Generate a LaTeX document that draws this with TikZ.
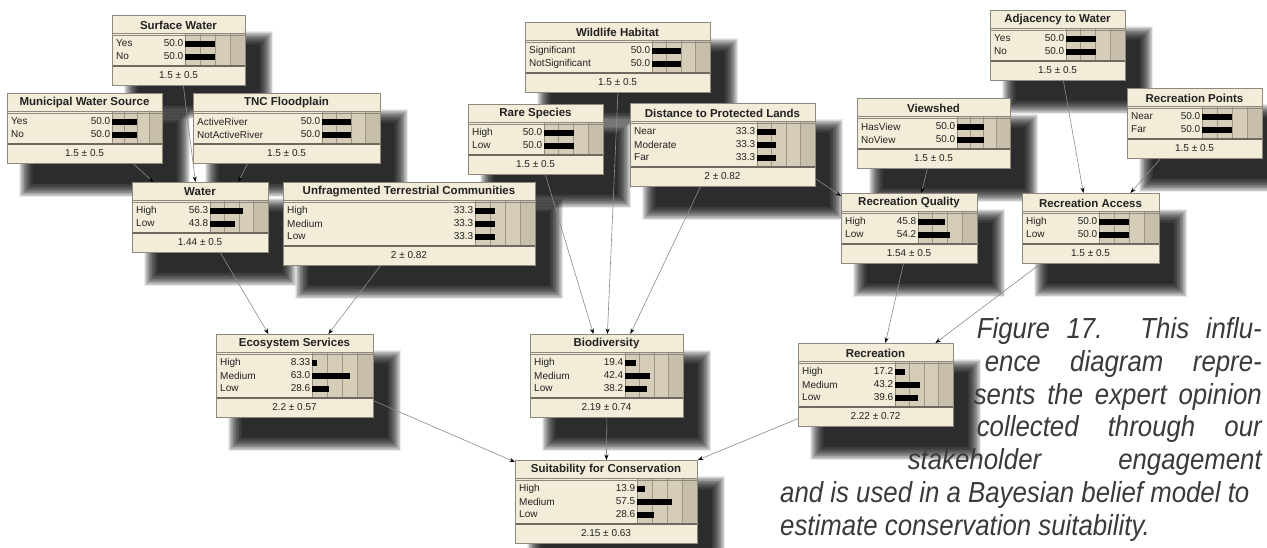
\documentclass[tikz,border=0pt]{standalone}
\usepackage{fontspec}
\setmainfont{Liberation Sans}
\newfontfamily\capfont[FakeStretch=0.89]{Liberation Sans}
\usetikzlibrary{arrows.meta,calc}
\definecolor{bbcream}{HTML}{F3ECD8}
\definecolor{bbtan}{HTML}{D6CDB9}
\definecolor{bbtandark}{HTML}{C8BFAB}
\definecolor{bbgrid}{HTML}{9F9686}
\definecolor{bbframe}{HTML}{8E897E}
\definecolor{bbsep}{HTML}{6F6A60}
\definecolor{edgec}{HTML}{8C8C8C}
\definecolor{capc}{HTML}{3A3A3A}
\definecolor{bbtext}{HTML}{222222}
\pgfdeclarelayer{bglayer}
\pgfdeclarelayer{shadowlayer}
\pgfdeclarelayer{edgelayer}
\pgfsetlayers{bglayer,shadowlayer,edgelayer,main}
\tikzset{
  boxframe/.style={draw=bbframe, fill=bbcream, line width=0.8pt, inner sep=0pt, anchor=north west},
  ttl/.style={font=\bfseries\fontsize{11.5}{13}\selectfont, text=bbtext, inner sep=0pt},
  lbl/.style={font=\fontsize{10}{12}\selectfont, text=bbtext, inner sep=0pt},
  edge/.style={draw=edgec, line width=0.6pt, -{Stealth[length=5.5pt,width=4pt,color=black]}},
  capline/.style={font=\capfont\itshape\fontsize{29}{33}\selectfont, text=capc, inner sep=0pt}
}
% name, L, T, R, barX, nrows, title, rows, bottom
\newcommand\bbnode[9]{%
  \pgfmathsetmacro\bnL{#2}%
  \pgfmathsetmacro\bnT{#3}%
  \pgfmathsetmacro\bnR{#4}%
  \pgfmathsetmacro\bnX{#5}%
  \pgfmathsetmacro\bnB{#3+44+13*#6}%
  \pgfmathsetmacro\bnW{#4-#5}%
  \pgfmathsetmacro\bnWd{#4-#2}%
  \pgfmathsetmacro\bnHt{\bnB-#3}%
  \begin{pgfonlayer}{shadowlayer}
    \foreach \i in {0,...,19}{
      \fill[black,opacity=0.08] (\bnL+12+\i*0.75, \bnT+16+\i*0.75) rectangle (\bnR+28-\i*0.75, \bnB+34-\i*0.75);
    }
  \end{pgfonlayer}
  \node[boxframe, minimum width=\bnWd pt, minimum height=\bnHt pt] (#1) at (\bnL,\bnT) {};
  \fill[bbtan] (\bnX,\bnT+19) rectangle (\bnR,\bnB-19);
  \fill[bbtandark] (\bnX+0.75*\bnW,\bnT+19) rectangle (\bnR,\bnB-19);
  \foreach \k in {1,2,3}{
    \draw[bbgrid, line width=0.6pt] (\bnX+\k*\bnW/4,\bnT+19) -- (\bnX+\k*\bnW/4,\bnB-19);
  }
  \draw[bbframe, line width=0.8pt] (\bnX,\bnT+19) -- (\bnX,\bnB-19);
  \draw[bbframe, line width=0.7pt] (\bnL,\bnT+18.2) -- (\bnR,\bnT+18.2);
  \draw[bbframe, line width=0.7pt] (\bnL,\bnT+20.2) -- (\bnR,\bnT+20.2);
  \draw[bbsep, line width=1.8pt] (\bnL,\bnB-19) -- (\bnR,\bnB-19);
  \draw[bbframe, line width=0.8pt] (\bnL,\bnT) rectangle (\bnR,\bnB);
  \node[ttl] (#1-t) at ({(\bnL+\bnR)/2},\bnT+10) {#7};
  \foreach \lab/\val [count=\j] in {#8}{
    \pgfmathsetmacro\yy{\bnT+19+3+6.5+(\j-1)*13}
    \node[lbl, anchor=west] (#1-l\j) at (\bnL+4,\yy) {\lab};
    \node[lbl, anchor=east] (#1-v\j) at (\bnX-1.5,\yy) {\val};
    \fill[black] (\bnX,\yy-3) rectangle (\bnX+\val/100*\bnW,\yy+3);
  }
  \node[lbl] (#1-b) at ({(\bnL+\bnR)/2},\bnB-9.5) {#9};
}
\begin{document}
\begin{tikzpicture}[x=1pt,y=-1pt]
\begin{pgfonlayer}{bglayer}
\fill[white] (0,0) rectangle (1267,547);
\end{pgfonlayer}
\useasboundingbox (0,0) rectangle (1267,547);

\bbnode{surf}{112}{15}{245}{185}{2}{Surface Water}{Yes/50.0, No/50.0}{1.5 ± 0.5}
\bbnode{muni}{7}{93}{162}{112}{2}{Municipal Water Source}{Yes/50.0, No/50.0}{1.5 ± 0.5}
\bbnode{tnc}{193}{93}{380}{322}{2}{TNC Floodplain}{ActiveRiver/50.0, NotActiveRiver/50.0}{1.5 ± 0.5}
\bbnode{water}{132}{182}{268}{210}{2}{Water}{High/56.3, Low/43.8}{1.44 ± 0.5}
\bbnode{utc}{283}{182}{535}{475}{3}{Unfragmented Terrestrial Communities}{High/33.3, Medium/33.3, Low/33.3}{2 ± 0.82}
\bbnode{wild}{525}{22}{710}{652}{2}{Wildlife Habitat}{Significant/50.0, NotSignificant/50.0}{1.5 ± 0.5}
\bbnode{rare}{468}{104}{603}{544}{2}{Rare Species}{High/50.0, Low/50.0}{1.5 ± 0.5}
\bbnode{dpl}{630}{103}{815}{757}{3}{Distance to Protected Lands}{Near/33.3, Moderate/33.3, Far/33.3}{2 ± 0.82}
\bbnode{adj}{990}{10}{1125}{1066}{2}{Adjacency to Water}{Yes/50.0, No/50.0}{1.5 ± 0.5}
\bbnode{view}{857}{98}{1010}{957}{2}{Viewshed}{HasView/50.0, NoView/50.0}{1.5 ± 0.5}
\bbnode{recpts}{1127}{88}{1262}{1202}{2}{Recreation Points}{Near/50.0, Far/50.0}{1.5 ± 0.5}
\bbnode{rq}{841}{193}{977}{918}{2}{Recreation Quality}{High/45.8, Low/54.2}{1.54 ± 0.5}
\bbnode{ra}{1022}{193}{1159}{1099}{2}{Recreation Access}{High/50.0, Low/50.0}{1.5 ± 0.5}
\bbnode{eco}{216}{334}{373}{312}{3}{Ecosystem Services}{High/8.33, Medium/63.0, Low/28.6}{2.2 ± 0.57}
\bbnode{bio}{530}{334}{683}{625}{3}{Biodiversity}{High/19.4, Medium/42.4, Low/38.2}{2.19 ± 0.74}
\bbnode{rec}{798}{343}{953}{895}{3}{Recreation}{High/17.2, Medium/43.2, Low/39.6}{2.22 ± 0.72}
\bbnode{suit}{515}{460}{697}{637}{3}{Suitability for Conservation}{High/13.9, Medium/57.5, Low/28.6}{2.15 ± 0.63}

\begin{pgfonlayer}{edgelayer}
\draw[edge] ([xshift=4.5pt]surf.south) -- ([xshift=-5pt]water.north);
\draw[edge] ([xshift=48.5pt]muni.south) -- ([xshift=-47pt]water.north);
\draw[edge] ([xshift=-39.5pt]tnc.south) -- ([xshift=38pt]water.north);
\draw[edge] ([xshift=20pt]water.south) -- ([xshift=-26.5pt]eco.north);
\draw[edge] ([xshift=-29pt]utc.south) -- ([xshift=33.5pt]eco.north);
\draw[edge] ([xshift=9.5pt]rare.south) -- ([xshift=-13.5pt]bio.north);
\draw[edge] (wild.south) -- ([xshift=0.5pt]bio.north);
\draw[edge] ([xshift=-22.5pt]dpl.south) -- ([xshift=23.5pt]bio.north);
\draw[edge] ([yshift=8pt]dpl.south east) -- ([yshift=-3pt]rq.north west);
\draw[edge] ([xshift=-6.5pt]view.south) -- ([xshift=12pt]rq.north);
\draw[edge] ([xshift=5.5pt]adj.south) -- ([xshift=-7.5pt]ra.north);
\draw[edge] ([xshift=-34.5pt]recpts.south) -- ([xshift=39.5pt]ra.north);
\draw[edge] ([xshift=-6pt]rq.south) -- ([xshift=9.5pt]rec.north);
\draw[edge] ([xshift=-50.5pt]ra.south) -- ([xshift=59.5pt]rec.north);
\draw[edge] ([yshift=17pt]eco.south east) -- ([yshift=-2pt]suit.north west);
\draw[edge] (bio.south) -- (suit.north);
\draw[edge] ([yshift=9pt,xshift=2pt]rec.south west) -- (suit.north east);
\end{pgfonlayer}

\node[capline, anchor=base east] (cap1) at (1262,338) {\makebox[285pt][s]{Figure 17. This influ-}};
\node[capline, anchor=base east] (cap2) at (1262,371) {\makebox[277pt][s]{ence diagram repre-}};
\node[capline, anchor=base east] (cap3) at (1262,404) {\makebox[288pt][s]{sents the expert opinion}};
\node[capline, anchor=base east] (cap4) at (1262,436) {\makebox[285pt][s]{collected through our}};
\node[capline, anchor=base east] (cap5) at (1262,469) {\makebox[354pt][s]{stakeholder engagement}};
\node[capline, anchor=base west] (cap6) at (780,502) {and is used in a Bayesian belief model to};
\node[capline, anchor=base west] (cap7) at (780,535) {estimate conservation suitability.};
\end{tikzpicture}
\end{document}
